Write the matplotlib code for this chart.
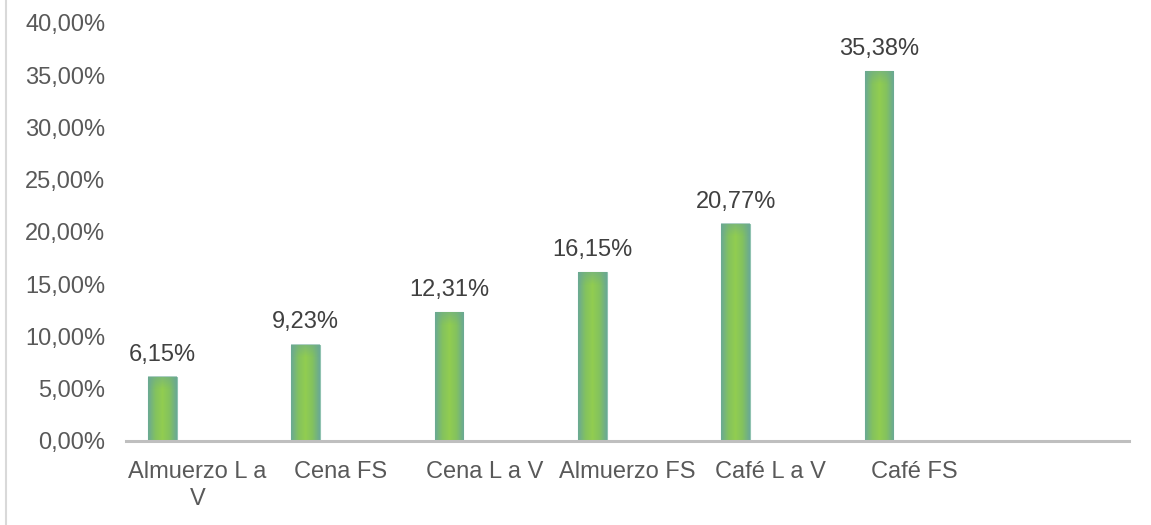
import numpy as np
import matplotlib
matplotlib.use('Agg')
import matplotlib.pyplot as plt
from matplotlib.colors import LinearSegmentedColormap
from matplotlib.lines import Line2D
from matplotlib.ticker import FuncFormatter, MultipleLocator

categories = ['Almuerzo L a\nV', 'Cena FS', 'Cena L a V', 'Almuerzo FS', 'Café L a V', 'Café FS']
values = [6.15, 9.23, 12.31, 16.15, 20.77, 35.38]
n_slots = 7  # the last category slot is empty in the original

plt.rcParams['font.family'] = ['Liberation Sans', 'DejaVu Sans']
txt = '#595959'
fs = 17

fig = plt.figure(figsize=(11.51, 5.25), dpi=100)
ax = fig.add_axes([126 / 1151, 1 - 441 / 525, 1003 / 1151, 418 / 525])

x = np.arange(len(values))
bars = ax.bar(x - 0.245, values, width=0.2, color='#8cc957', edgecolor='#8fc2b0', linewidth=0.8, zorder=2)

# horizontal gradient inside each bar: teal edges, green middle
cmap = LinearSegmentedColormap.from_list('g', ['#6aa994', '#83c25f', '#92cd50', '#83c25f', '#6aa994'])
grad = np.tile(np.linspace(0, 1, 64), (64, 1))
tint = LinearSegmentedColormap.from_list('t', [(0.42, 0.66, 0.58, 0.0), (0.42, 0.66, 0.58, 0.55)])
for b in bars:
    x0, w, h = b.get_x(), b.get_width(), b.get_height()
    im = ax.imshow(grad, cmap=cmap, aspect='auto', extent=[x0, x0 + w, 0, h], zorder=2.5, interpolation='bilinear')
    im.set_clip_path(b)
    # slight teal tint at the top of each bar
    top = np.linspace(0, 1, 32).reshape(-1, 1) * np.ones((1, 8))
    ax.imshow(top, cmap=tint, aspect='auto', extent=[x0, x0 + w, h - min(h, 1.2), h], origin='lower',
              zorder=2.6, interpolation='bilinear')

for b, v in zip(bars, values):
    ax.annotate(f'{v:.2f}%'.replace('.', ','), (b.get_x() + b.get_width() / 2, v),
                xytext=(0, 8), textcoords='offset points',
                ha='center', va='bottom', fontsize=fs, color='#404040')

ax.set_xlim(-0.5, n_slots - 0.5)
ax.set_ylim(0, 40)
ax.yaxis.set_major_locator(MultipleLocator(5))
ax.yaxis.set_major_formatter(FuncFormatter(lambda v, p: f'{v:.2f}%'.replace('.', ',')))
ax.set_xticks(x)
ax.set_xticklabels(categories, fontsize=fs, color=txt, linespacing=1.3)
ax.tick_params(axis='x', length=0, pad=14.5)
ax.tick_params(axis='y', length=0, pad=15, labelsize=fs, labelcolor=txt)

for s in ['top', 'right', 'left']:
    ax.spines[s].set_visible(False)
ax.spines['bottom'].set_color('#bfbfbf')
ax.spines['bottom'].set_linewidth(2.2)
ax.spines['bottom'].set_zorder(3)

# chart area border on the left
fig.add_artist(Line2D([5.5 / 1151, 5.5 / 1151], [0, 1], color='#d9d9d9', linewidth=1.5))

fig.savefig('out.png', dpi=100)
